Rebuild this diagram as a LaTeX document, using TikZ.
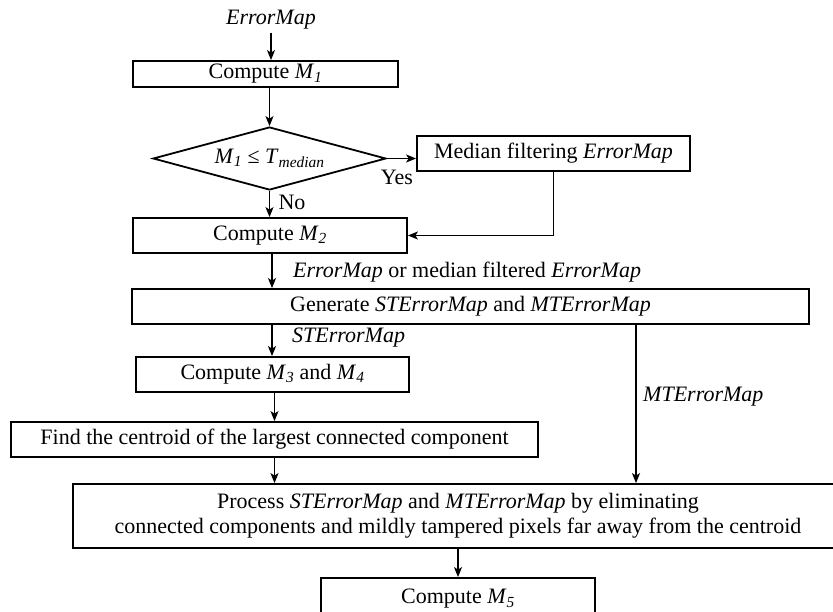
\documentclass[tikz,border=0pt]{standalone}
\usepackage{fontspec}
\setmainfont{Liberation Serif}
\usetikzlibrary{arrows.meta,shapes.geometric,calc}
\newcommand\isub[1]{\textsubscript{\textit{#1}}}
\begin{document}
\begin{tikzpicture}[x=1pt,y=-1pt,
  every node/.style={font=\fontsize{22}{25}\selectfont, inner sep=0pt},
  box/.style={draw, line width=1.8pt, rectangle},
  arr/.style={line width=1.5pt, -{Stealth[length=10pt,width=8pt,inset=2.5pt]}},
  lbl/.style={anchor=west}]
\useasboundingbox (0,0) rectangle (833,611);
% nodes
\node (em) at (271,20) {\textit{ErrorMap}};
\node[box, minimum width=265pt, minimum height=26pt] (m1) at (265.5,74) {Compute \textit{M}\isub{1}};
\node[draw, line width=1.8pt, shape=diamond, shape aspect=3.7, minimum width=233pt, minimum height=63pt] (dia) at (269.5,158.5) {\textit{M}\isub{1} ≤ \textit{T}\isub{median}};
\node[box, minimum width=273pt, minimum height=35pt] (med) at (553.5,153.5) {Median filtering \textit{ErrorMap}};
\node (yes) at (397,177) {Yes};
\node (no) at (292,202) {No};
\node[box, minimum width=274pt, minimum height=35pt] (m2) at (270,235.5) {Compute \textit{M}\isub{2}};
\node[lbl] (l1) at (293,272) {\textit{ErrorMap} or median filtered \textit{ErrorMap}};
\node[box, minimum width=677pt, minimum height=35pt] (gen) at (470.5,306.5) {Generate \textit{STErrorMap} and \textit{MTErrorMap}};
\node[lbl] (l2) at (292,338) {\textit{STErrorMap}};
\node[box, minimum width=273pt, minimum height=35pt] (m3) at (272.5,374.5) {Compute \textit{M}\isub{3} and \textit{M}\isub{4}};
\node[lbl] (l3) at (643,397) {\textit{MTErrorMap}};
\node[box, minimum width=527pt, minimum height=35pt] (find) at (274.5,439.5) {Find the centroid of the largest connected component};
\node[box, minimum width=770pt, minimum height=64pt, align=center] (proc) at (458,516) {Process \textit{STErrorMap} and \textit{MTErrorMap} by eliminating\\connected components and mildly tampered pixels far away from the centroid};
\node[box, minimum width=274pt, minimum height=42pt] (m5) at (458,599) {Compute \textit{M}\isub{5}};
\coordinate (c1) at (272,0);
\coordinate (c2) at (636,0);
% connectors
\draw[arr, shorten <=3pt] (em.south) -- (em.south |- m1.north);
\draw[arr] (m1.south -| dia.north) -- (dia.north);
\draw[arr] (dia.east) -- (dia.east -| med.west);
\draw[arr] (dia.south) -- (dia.south |- m2.north);
\draw[arr] (med.south) |- (m2.east);
\draw[arr] (m2.south -| c1) -- (gen.north -| c1);
\draw[arr] (gen.south -| c1) -- (m3.north -| c1);
\draw[arr] (gen.south -| c2) -- (proc.north -| c2);
\draw[arr] (m3.south -| find.north) -- (find.north);
\draw[arr] (find.south) -- (find.south |- proc.north);
\draw[arr] (proc.south -| m5.north) -- (m5.north);
\end{tikzpicture}
\end{document}
